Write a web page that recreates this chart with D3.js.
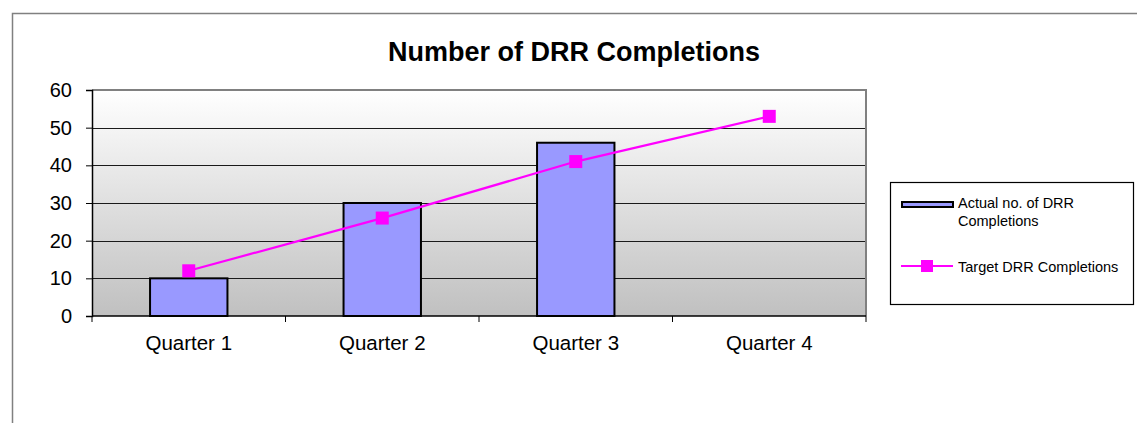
<!DOCTYPE html>
<html>
<head>
<meta charset="utf-8">
<script src="https://cdn.jsdelivr.net/npm/d3@7"></script>
<style>
  body { margin: 0; background: #fff; }
  svg { display: block; font-family: "Liberation Sans", Arial, sans-serif; }
</style>
</head>
<body>
<div id="grafica"></div>
<script>
// datos del grafico
var titulo = 'Number of DRR Completions'
var trimestres = ['Quarter 1', 'Quarter 2', 'Quarter 3', 'Quarter 4']
var actual = [10, 30, 46, null]
var objetivo = [12, 26, 41, 53]
var yTicks = [0, 10, 20, 30, 40, 50, 60]
var nombreActual = ['Actual no. of DRR', 'Completions']
var nombreObjetivo = 'Target DRR Completions'

var W = 1137, H = 423
var margin = { top: 90, left: 92, right: 1137 - 866, bottom: 423 - 316 }
var width = W - margin.left - margin.right
var height = H - margin.top - margin.bottom

var svg = d3.select('#grafica')
    .append('svg')
    .attr('width', W)
    .attr('height', H)

// borde exterior del grafico (solo se ven arriba e izquierda)
svg.append('rect')
    .attr('x', 12.5).attr('y', 13.5)
    .attr('width', W + 20).attr('height', H + 20)
    .attr('fill', '#fff')
    .attr('stroke', '#808080')
    .attr('stroke-width', 1.5)

svg.append('text')
    .attr('x', 574).attr('y', 61)
    .attr('text-anchor', 'middle')
    .attr('font-size', '27px')
    .attr('font-weight', 'bold')
    .attr('fill', '#000')
    .text(titulo)

var defs = svg.append('defs')
var grad = defs.append('linearGradient')
    .attr('id', 'fondo')
    .attr('x1', 0).attr('y1', 0).attr('x2', 0).attr('y2', 1)
grad.append('stop').attr('offset', '0%').attr('stop-color', '#ffffff')
grad.append('stop').attr('offset', '100%').attr('stop-color', '#c0c0c0')

var g = svg.append('g')
    .attr('transform', 'translate(' + margin.left + ',' + margin.top + ')')

var x = d3.scaleBand()
    .domain(trimestres)
    .range([0, width])
    .padding(0)

var y = d3.scaleLinear()
    .domain([0, 60])
    .range([height, 0])

g.append('rect')
    .attr('width', width)
    .attr('height', height)
    .attr('fill', 'url(#fondo)')

// lineas de la grilla
g.selectAll('line.grid')
    .data(yTicks.filter(function (d) { return d > 0 && d < 60 }))
    .enter()
    .append('line')
    .attr('class', 'grid')
    .attr('x1', 0).attr('x2', width)
    .attr('y1', function (d) { return Math.round(y(d)) + 0.5 })
    .attr('y2', function (d) { return Math.round(y(d)) + 0.5 })
    .attr('stroke', '#1a1a1a')
    .attr('stroke-width', 1)

// borde gris arriba y derecha
g.append('path')
    .attr('d', 'M0,' + y(60) + 'H' + width + 'V' + y(0))
    .attr('fill', 'none')
    .attr('stroke', '#808080')
    .attr('stroke-width', 2)

// barras
var anchoBarra = x.bandwidth() * 0.4
g.selectAll('rect.bar')
    .data(trimestres.map(function (t, i) { return { q: t, v: actual[i] } })
        .filter(function (d) { return d.v != null }))
    .enter()
    .append('rect')
    .attr('class', 'bar')
    .attr('x', function (d) { return x(d.q) + (x.bandwidth() - anchoBarra) / 2 })
    .attr('y', function (d) { return y(d.v) })
    .attr('width', anchoBarra)
    .attr('height', function (d) { return y(0) - y(d.v) })
    .attr('fill', '#9999ff')
    .attr('stroke', '#000')
    .attr('stroke-width', 2)

// eje y
var yAxis = g.append('g')
    .call(d3.axisLeft(y).tickValues(yTicks).tickSize(6).tickPadding(14))
yAxis.select('.domain').attr('stroke', '#000').attr('stroke-width', 1.5)
yAxis.selectAll('.tick line').attr('stroke', '#000')
yAxis.selectAll('.tick text')
    .attr('font-size', '20px')
    .attr('font-family', '"Liberation Sans", Arial, sans-serif')
    .attr('fill', '#000')

// eje x
var xAxis = g.append('g')
    .attr('transform', 'translate(0,' + height + ')')
    .call(d3.axisBottom(x).tickSize(0).tickPadding(19))
xAxis.select('.domain').remove()
xAxis.selectAll('.tick text')
    .attr('font-size', '20.5px')
    .attr('font-family', '"Liberation Sans", Arial, sans-serif')
    .attr('fill', '#000')
    .attr('dy', '0.71em')

g.append('line')
    .attr('x1', 0).attr('x2', width)
    .attr('y1', height).attr('y2', height)
    .attr('stroke', '#000')
    .attr('stroke-width', 1.5)

var bordes = trimestres.map(function (t) { return x(t) }).concat([width])
g.selectAll('line.xtick')
    .data(bordes)
    .enter()
    .append('line')
    .attr('class', 'xtick')
    .attr('x1', function (d) { return d }).attr('x2', function (d) { return d })
    .attr('y1', height).attr('y2', height + 6)
    .attr('stroke', '#000')
    .attr('stroke-width', 1)

// linea objetivo
var puntos = trimestres.map(function (t, i) { return { q: t, v: objetivo[i] } })
var linea = d3.line()
    .x(function (d) { return x(d.q) + x.bandwidth() / 2 })
    .y(function (d) { return y(d.v) })

g.append('path')
    .datum(puntos)
    .attr('d', linea)
    .attr('fill', 'none')
    .attr('stroke', '#ff00ff')
    .attr('stroke-width', 2.2)

var m = 13
g.selectAll('rect.marca')
    .data(puntos)
    .enter()
    .append('rect')
    .attr('class', 'marca')
    .attr('x', function (d) { return x(d.q) + x.bandwidth() / 2 - m / 2 })
    .attr('y', function (d) { return y(d.v) - m / 2 })
    .attr('width', m).attr('height', m)
    .attr('fill', '#ff00ff')

// leyenda
var ley = svg.append('g').attr('transform', 'translate(890,182)')
ley.append('rect')
    .attr('x', 0.5).attr('y', 0.5)
    .attr('width', 243).attr('height', 122)
    .attr('fill', '#fff')
    .attr('stroke', '#000')
    .attr('stroke-width', 1.2)

ley.append('rect')
    .attr('x', 12).attr('y', 20)
    .attr('width', 51).attr('height', 5)
    .attr('fill', '#9999ff')
    .attr('stroke', '#000')
    .attr('stroke-width', 2)

ley.selectAll('text.l1')
    .data(nombreActual)
    .enter()
    .append('text')
    .attr('class', 'l1')
    .attr('x', 68)
    .attr('y', function (d, i) { return 26 + i * 18 })
    .attr('font-size', '14.5px')
    .attr('fill', '#000')
    .text(function (d) { return d })

ley.append('line')
    .attr('x1', 11).attr('x2', 63)
    .attr('y1', 84).attr('y2', 84)
    .attr('stroke', '#ff00ff')
    .attr('stroke-width', 2.2)
ley.append('rect')
    .attr('x', 37 - 6).attr('y', 84 - 6)
    .attr('width', 12).attr('height', 12)
    .attr('fill', '#ff00ff')
ley.append('text')
    .attr('x', 68).attr('y', 89.5)
    .attr('font-size', '14.5px')
    .attr('fill', '#000')
    .text(nombreObjetivo)
</script>
</body>
</html>
